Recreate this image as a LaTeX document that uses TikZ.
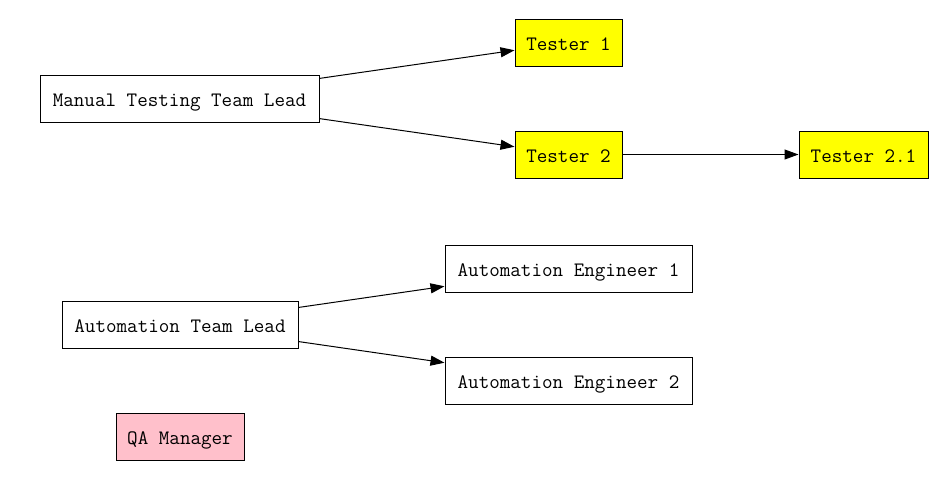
\documentclass[tikz,border=0pt]{standalone}
\usetikzlibrary{arrows.meta}
\definecolor{gvpink}{HTML}{FFC0CB}
\definecolor{gvyellow}{HTML}{FFFF00}
\tikzset{
  box/.style={draw=black, line width=1pt, inner sep=0pt, minimum height=47pt,
    text height=16pt, text depth=0pt,
    font=\fontsize{20.5}{22}\selectfont\ttfamily},
  edge/.style={line width=1pt, -{Triangle[length=14pt,width=10pt]}}
}
\begin{document}
\begin{tikzpicture}[x=1pt,y=-1pt]
\useasboundingbox (0,0) rectangle (950,480);
\node[box, minimum width=279pt] (mlead) at (179.5,98.5) {Manual Testing Team Lead};
\node[box, fill=gvyellow, minimum width=107pt] (t1) at (568.5,42.5) {Tester 1};
\node[box, fill=gvyellow, minimum width=107pt] (t2) at (568.5,154.5) {Tester 2};
\node[box, fill=gvyellow, minimum width=129pt] (t21) at (863.5,154.5) {Tester 2.1};
\node[box, minimum width=236pt] (alead) at (180,324.5) {Automation Team Lead};
\node[box, minimum width=247pt] (ae1) at (568.5,268.5) {Automation Engineer 1};
\node[box, minimum width=247pt] (ae2) at (568.5,380.5) {Automation Engineer 2};
\node[box, fill=gvpink, minimum width=128pt] (qa) at (180,436.5) {QA Manager};
\draw[edge] (mlead) -- (t1);
\draw[edge] (mlead) -- (t2);
\draw[edge] (t2) -- (t21);
\draw[edge] (alead) -- (ae1);
\draw[edge] (alead) -- (ae2);
\end{tikzpicture}
\end{document}
